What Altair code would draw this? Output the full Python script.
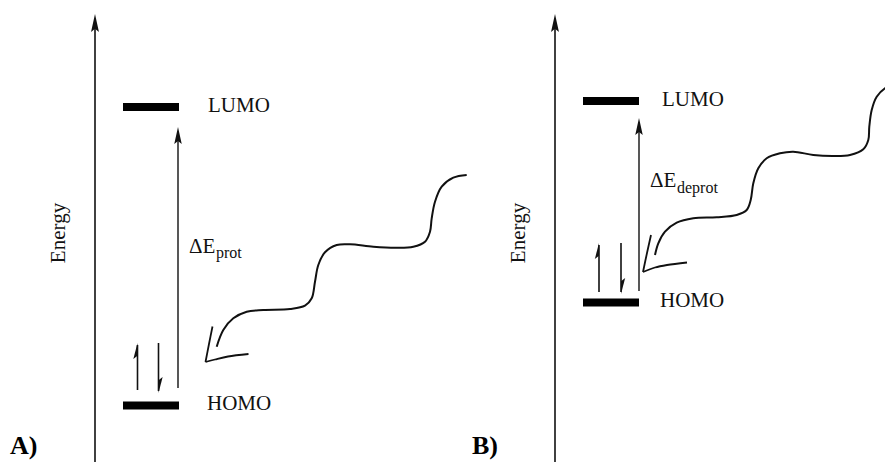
import altair as alt
import pandas as pd

# ---------------- data (picture units, y down) ----------
panel = ["A", "B"]

# orbital levels
level_x1 = [123, 583]
level_x2 = [179, 639]
lumo_y = [107, 101]
homo_y = [405.5, 302.5]

# energy axis arrows
energy_x = [95, 555]
energy_bottom = [466, 466]
energy_tip = [14, 14]

# HOMO -> LUMO gap arrows
gap_x = [178, 639]
gap_bottom = [388, 291]
gap_tip = [127, 118]

# electron spins (harpoons)
spin_up_x = [137.5, 599]
spin_up_bottom = [390, 292]
spin_up_tip = [343, 243]
spin_down_x = [158.5, 621]
spin_down_top = [343, 243]
spin_down_tip = [393, 294]

# incoming photon (wavy line)
wave_a_x = [466.7, 453.3, 441.7, 435, 431.7, 430, 425, 413.3, 396.7, 373.3, 350, 336.7,
            325, 318.3, 315, 311.7, 305, 290, 263.3, 246.7, 233.3, 223.3, 216.7]
wave_a_y = [175, 177.7, 186.7, 201.7, 218.3, 231.7, 241.7, 246.7, 247.7, 246.7, 244.3, 245,
            252.3, 265, 281.7, 298.3, 305.7, 309, 310, 311.7, 318.3, 330, 346.7]
wave_b_x = [893.3, 885, 876.7, 871.7, 869.3, 868.3, 863.3, 850, 833.3, 813.3, 793.3, 780,
            766.7, 758.3, 753.3, 750.7, 746.7, 736.7, 716.7, 693.3, 676.7, 665, 658.3, 655]
wave_b_y = [85, 88.3, 96.7, 110, 126.7, 140, 149.3, 155, 156, 155, 151.7, 153.3,
            158.3, 168.3, 183.3, 200, 210, 215, 217.3, 218.3, 222.7, 231.7, 243.3, 255]

# hand-drawn arrow heads of the photon
head_a1_x = [212.5, 209, 205.5]
head_a1_y = [326.5, 344, 362]
head_a2_x = [205.5, 215, 228, 248.5]
head_a2_y = [362, 359.5, 356.5, 354]
head_b1_x = [651, 647, 643]
head_b1_y = [235, 253, 272]
head_b2_x = [643, 655, 667, 687]
head_b2_y = [272, 267.5, 265, 262.5]

# texts
level_text = ["LUMO", "HOMO", "LUMO", "HOMO"]
level_text_x = [208, 207, 662, 660]
level_text_y = [112, 410, 106, 307]
delta_text = ["ΔE", "ΔE"]
delta_x = [189, 650]
delta_y = [253, 187]
sub_text = ["prot", "deprot"]
sub_x = [216, 677]
sub_y = [258, 193]
energy_label = ["Energy", "Energy"]
energy_label_x = [65, 525]
energy_label_y = [233, 233]
tag_text = ["A)", "B)"]
tag_x = [10, 472]
tag_y = [454, 454]

# ---------------- tables ----------------
levels = pd.DataFrame({
    "x": level_x1 + level_x1,
    "x2": level_x2 + level_x2,
    "y": lumo_y + homo_y,
})

axis_shafts = pd.DataFrame({"x": energy_x, "y": energy_bottom,
                            "y2": [t + 8 for t in energy_tip]})
gap_shafts = pd.DataFrame({"x": gap_x, "y": gap_bottom,
                           "y2": [t + 8 for t in gap_tip]})
spin_shafts = pd.DataFrame({
    "x": spin_up_x + spin_down_x,
    "y": spin_up_bottom + spin_down_top,
    "y2": [t + 2 for t in spin_up_tip] + [t - 2 for t in spin_down_tip],
})

axis_heads = pd.DataFrame({"x": energy_x, "y": energy_tip})
gap_heads = pd.DataFrame({"x": gap_x, "y": gap_tip})
up_heads = pd.DataFrame({"x": spin_up_x, "y": spin_up_tip})
down_heads = pd.DataFrame({"x": spin_down_x, "y": spin_down_tip})

def path_rows(name, xs, ys):
    return pd.DataFrame({"id": name, "order": list(range(len(xs))), "x": xs, "y": ys})

waves = pd.concat([
    path_rows("wa", wave_a_x, wave_a_y),
    path_rows("wb", wave_b_x, wave_b_y),
])
photon_heads = pd.concat([
    path_rows("ha1", head_a1_x, head_a1_y),
    path_rows("ha2", head_a2_x, head_a2_y),
    path_rows("hb1", head_b1_x, head_b1_y),
    path_rows("hb2", head_b2_x, head_b2_y),
])

level_labels = pd.DataFrame({"x": level_text_x, "y": level_text_y, "t": level_text})
delta_labels = pd.DataFrame({"x": delta_x, "y": delta_y, "t": delta_text})
sub_labels = pd.DataFrame({"x": sub_x, "y": sub_y, "t": sub_text})
energy_labels = pd.DataFrame({"x": energy_label_x, "y": energy_label_y, "t": energy_label})
tags = pd.DataFrame({"x": tag_x, "y": tag_y, "t": tag_text})

# ---------------- scales ----------------
xs = alt.Scale(domain=[8, 885], nice=False, zero=False)
ys = alt.Scale(domain=[8, 462], nice=False, zero=False, reverse=True)
X = lambda f="x": alt.X(f"{f}:Q", scale=xs, axis=None)
Y = lambda f="y": alt.Y(f"{f}:Q", scale=ys, axis=None)

INK = "#111111"
SERIF = "Liberation Serif"

ARROW = "M0,0L0.22,1L0,0.82L-0.22,1Z"
HARP_UP = "M0,0L-0.26,1L0,0.8Z"
HARP_DOWN = "M0,0L0.26,-1L0,-0.8Z"

layer_levels = alt.Chart(levels).mark_rule(strokeWidth=8, color="#000000").encode(
    x=X(), x2="x2:Q", y=Y())

layer_axis = alt.Chart(axis_shafts).mark_rule(strokeWidth=1.6, color=INK).encode(
    x=X(), y=Y(), y2="y2:Q")
layer_gap = alt.Chart(gap_shafts).mark_rule(strokeWidth=1.4, color=INK).encode(
    x=X(), y=Y(), y2="y2:Q")
layer_spin = alt.Chart(spin_shafts).mark_rule(strokeWidth=1.6, color=INK).encode(
    x=X(), y=Y(), y2="y2:Q")

layer_axis_heads = alt.Chart(axis_heads).mark_point(
    shape=ARROW, size=1296, filled=True, opacity=1, color=INK, strokeWidth=0
).encode(x=X(), y=Y())
layer_gap_heads = alt.Chart(gap_heads).mark_point(
    shape=ARROW, size=1156, filled=True, opacity=1, color=INK, strokeWidth=0
).encode(x=X(), y=Y())
layer_up_heads = alt.Chart(up_heads).mark_point(
    shape=HARP_UP, size=1024, filled=True, opacity=1, color=INK, strokeWidth=0.6
).encode(x=X(), y=Y())
layer_down_heads = alt.Chart(down_heads).mark_point(
    shape=HARP_DOWN, size=1024, filled=True, opacity=1, color=INK, strokeWidth=0.6
).encode(x=X(), y=Y())

layer_waves = alt.Chart(waves).mark_line(
    interpolate="catmull-rom", strokeWidth=2, color=INK
).encode(x=X(), y=Y(), order="order:Q", detail="id:N")
layer_photon_heads = alt.Chart(photon_heads).mark_line(
    interpolate="catmull-rom", strokeWidth=1.8, color=INK
).encode(x=X(), y=Y(), order="order:Q", detail="id:N")

layer_level_text = alt.Chart(level_labels).mark_text(
    font=SERIF, fontSize=21, align="left", baseline="alphabetic", color=INK
).encode(x=X(), y=Y(), text="t:N")
layer_delta = alt.Chart(delta_labels).mark_text(
    font=SERIF, fontSize=21, align="left", baseline="alphabetic", color=INK
).encode(x=X(), y=Y(), text="t:N")
layer_sub = alt.Chart(sub_labels).mark_text(
    font=SERIF, fontSize=16, align="left", baseline="alphabetic", color=INK
).encode(x=X(), y=Y(), text="t:N")
layer_energy = alt.Chart(energy_labels).mark_text(
    font=SERIF, fontSize=21, align="center", baseline="alphabetic", angle=270, color=INK
).encode(x=X(), y=Y(), text="t:N")
layer_tags = alt.Chart(tags).mark_text(
    font=SERIF, fontSize=26, fontWeight="bold", align="left", baseline="alphabetic",
    color="#000000"
).encode(x=X(), y=Y(), text="t:N")

chart = alt.layer(
    layer_levels, layer_axis, layer_gap, layer_spin,
    layer_axis_heads, layer_gap_heads, layer_up_heads, layer_down_heads,
    layer_waves, layer_photon_heads,
    layer_level_text, layer_delta, layer_sub, layer_energy, layer_tags,
).properties(
    width=877, height=454, padding=0,
    autosize=alt.AutoSizeParams(type="none"),
    background="white",
).configure_view(stroke=None)

chart.save("out.html", embed_options={"renderer": "svg", "actions": False})
